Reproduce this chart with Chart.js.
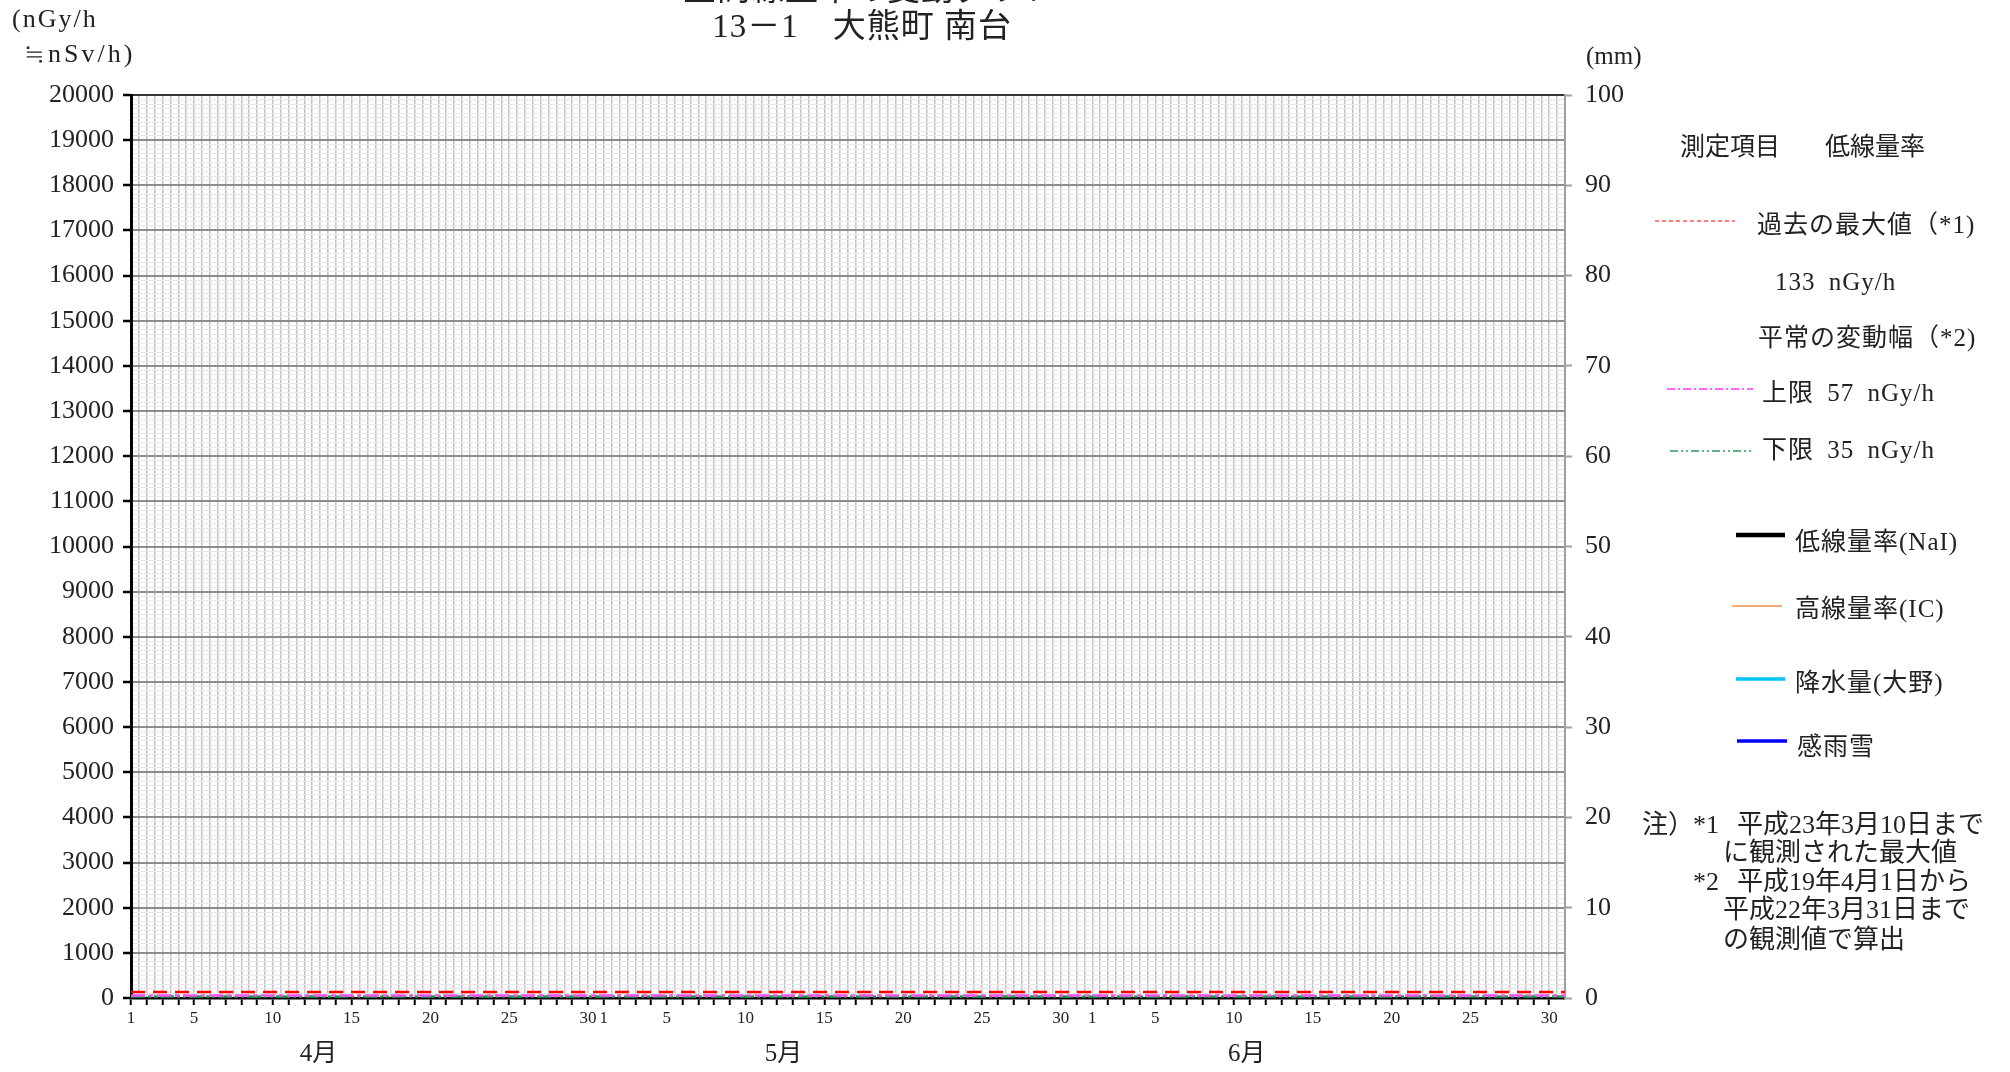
<!DOCTYPE html>
<html lang="ja">
<head>
<meta charset="utf-8">
<title>空間線量率の変動グラフ 13－1 大熊町 南台</title>
<script src="https://cdn.jsdelivr.net/npm/chart.js@4.4.1/dist/chart.umd.min.js"></script>
<style>
  html, body { margin: 0; padding: 0; background: #fff; }
  body {
    width: 2010px; height: 1072px; position: relative; overflow: hidden;
    font-family: "Liberation Serif", "Noto Sans CJK JP", serif; color: #222;
  }
  #chart { position: absolute; left: 0; top: 0; }
  .t { position: absolute; white-space: nowrap; line-height: 1.2; transform: translateY(-50%); font-size: 25px; }
  .c { transform: translate(-50%, -50%); }
  .w { letter-spacing: 1px; word-spacing: 6px; }
  .note { font-size: 26px; }
  #keys { position: absolute; left: 0; top: 0; }
</style>
</head>
<body>
<canvas id="chart" width="2010" height="1072"></canvas>

<div class="t c" style="left:870px; top:-10px; font-size:33px; letter-spacing:1px;">空間線量率の変動グラフ</div>
<div class="t c" style="left:862px; top:27px; font-size:33px; letter-spacing:1px;">13－1　大熊町 南台</div>
<div class="t" style="left:12px; top:19px; font-size:26px; letter-spacing:2px;">(nGy/h</div>
<div class="t" style="left:24px; top:54px; font-size:26px; letter-spacing:3px;">≒nSv/h)</div>
<div class="t" style="left:1586px; top:56px;">(mm)</div>

<div class="t" style="left:1680px; top:147px;">測定項目</div>
<div class="t" style="left:1825px; top:147px;">低線量率</div>
<div class="t w" style="left:1757px; top:225px;">過去の最大値（*1)</div>
<div class="t w" style="left:1775px; top:282px;">133 nGy/h</div>
<div class="t w" style="left:1758px; top:338px;">平常の変動幅（*2)</div>
<div class="t w" style="left:1762px; top:393px;">上限 57 nGy/h</div>
<div class="t w" style="left:1762px; top:450px;">下限 35 nGy/h</div>
<div class="t w" style="left:1795px; top:542px;">低線量率(NaI)</div>
<div class="t w" style="left:1795px; top:609px;">高線量率(IC)</div>
<div class="t w" style="left:1795px; top:683px;">降水量(大野)</div>
<div class="t w" style="left:1797px; top:747px;">感雨雪</div>

<div class="t note" style="left:1642px; top:825px;">注）</div>
<div class="t note" style="left:1693px; top:825px;">*1</div>
<div class="t note" style="left:1737px; top:825px;">平成23年3月10日まで</div>
<div class="t note" style="left:1723px; top:853px;">に観測された最大値</div>
<div class="t note" style="left:1693px; top:882px;">*2</div>
<div class="t note" style="left:1737px; top:882px;">平成19年4月1日から</div>
<div class="t note" style="left:1723px; top:910px;">平成22年3月31日まで</div>
<div class="t note" style="left:1723px; top:940px;">の観測値で算出</div>

<svg id="keys" width="2010" height="1072">
  <line x1="1655" y1="221" x2="1735" y2="221" stroke="#ff0000" stroke-width="1.2" stroke-dasharray="4 3"/>
  <line x1="1667" y1="389" x2="1753" y2="389" stroke="#ff33ff" stroke-width="1.5" stroke-dasharray="8 3 2 3"/>
  <line x1="1670" y1="451" x2="1754" y2="451" stroke="#2e9a5c" stroke-width="1.5" stroke-dasharray="8 3 2 3 2 3"/>
  <line x1="1736" y1="535" x2="1785" y2="535" stroke="#000" stroke-width="4.5"/>
  <line x1="1732" y1="606" x2="1782" y2="606" stroke="#f0904a" stroke-width="1.5"/>
  <line x1="1736" y1="679" x2="1785" y2="679" stroke="#00c4f5" stroke-width="3.5"/>
  <line x1="1737" y1="741" x2="1787" y2="741" stroke="#0000ff" stroke-width="3.5"/>
</svg>

<script>
// months shown on the x axis (Apr - Jun)
const monthNames = ['4月', '5月', '6月'];
const monthDays = [30, 31, 30];
const dayLabels = [1, 5, 10, 15, 20, 25, 30];

// reference levels (nGy/h)
const pastMax = 133;
const normalUpper = 57;
const normalLower = 35;

// measured series - nothing plotted in this period
const naiRate = [];
const icRate = [];
const rainfall = [];
const rainSnow = [];

const totalDays = monthDays.reduce((a, b) => a + b, 0);
const fontFam = '"Liberation Serif", "Noto Sans CJK JP", serif';
const clear = 'rgba(0,0,0,0)';

// where the month names sit, in days from Apr 1
const monthLabelAt = [11.9, 41.4, 70.8];

function dayOfMonth(v) {
    let d = v;
    for (let i = 0; i < monthDays.length; i++) {
        if (d < monthDays[i]) return d + 1;
        d -= monthDays[i];
    }
    return null;
}

function flat(level) {
    return [{ x: 0, y: level }, { x: totalDays, y: level }];
}

const monthLabels = {
    id: 'monthLabels',
    afterDraw(chart) {
        const ctx = chart.ctx;
        const x = chart.scales.x;
        ctx.save();
        ctx.font = '25px ' + fontFam;
        ctx.fillStyle = '#222';
        ctx.textAlign = 'center';
        ctx.textBaseline = 'middle';
        monthNames.forEach((name, i) => {
            ctx.fillText(name, x.getPixelForValue(monthLabelAt[i]), 1054);
        });
        ctx.restore();
    }
};

new Chart(document.getElementById('chart'), {
    type: 'line',
    data: {
        datasets: [
            { label: '過去の最大値', data: flat(pastMax), borderColor: '#ff0000', borderWidth: 2.5, borderDash: [14, 8], pointRadius: 0, yAxisID: 'y' },
            { label: '上限', data: flat(normalUpper), borderColor: '#ee55ee', borderWidth: 2.5, borderDash: [14, 4, 4, 4], pointRadius: 0, yAxisID: 'y' },
            { label: '下限', data: flat(normalLower), borderColor: '#1f9a50', borderWidth: 2.5, borderDash: [14, 3, 3, 3, 3, 3], pointRadius: 0, yAxisID: 'y' },
            { label: '低線量率(NaI)', data: naiRate, borderColor: '#000', borderWidth: 3, pointRadius: 0, yAxisID: 'y' },
            { label: '高線量率(IC)', data: icRate, borderColor: '#f0904a', borderWidth: 1.5, pointRadius: 0, yAxisID: 'y' },
            { label: '降水量(大野)', data: rainfall, borderColor: '#00c4f5', borderWidth: 3, pointRadius: 0, yAxisID: 'y2' },
            { label: '感雨雪', data: rainSnow, borderColor: '#0000ff', borderWidth: 3, pointRadius: 0, yAxisID: 'y2' }
        ]
    },
    options: {
        responsive: false,
        animation: false,
        layout: { padding: { top: 95, left: 0, right: 0, bottom: 0 } },
        plugins: { legend: { display: false }, tooltip: { enabled: false } },
        scales: {
            x: {
                type: 'linear',
                min: 0,
                max: totalDays,
                afterFit: s => { s.height = 74; },
                afterBuildTicks: s => {
                    s.ticks = [];
                    for (let i = 0; i <= totalDays * 2; i++) s.ticks.push({ value: i / 2 });
                },
                border: { color: '#000', width: 2.5 },
                grid: {
                    color: c => (c.tick && c.tick.value > 0 && c.tick.value < totalDays) ? '#c2c2c2' : clear,
                    lineWidth: 1.5,
                    tickLength: 7,
                    tickWidth: 2,
                    tickColor: c => (c.tick && Number.isInteger(c.tick.value) && c.tick.value < totalDays) ? '#000' : clear
                },
                ticks: {
                    autoSkip: false,
                    maxRotation: 0,
                    padding: 3,
                    color: '#222',
                    font: { family: fontFam, size: 17 },
                    callback: v => {
                        if (!Number.isInteger(v)) return '';
                        const d = dayOfMonth(v);
                        return dayLabels.includes(d) ? String(d) : '';
                    }
                }
            },
            y: {
                position: 'left',
                min: 0,
                max: 20000,
                afterFit: s => { s.width = 131; },
                afterBuildTicks: s => {
                    s.ticks = [];
                    for (let v = 0; v <= 20000; v += 100) s.ticks.push({ value: v });
                },
                border: { color: '#000', width: 3 },
                grid: {
                    color: c => {
                        const v = c.tick ? c.tick.value : 0;
                        if (v === 20000) return '#333';
                        return v % 1000 === 0 ? '#8c8c8c' : '#e8e8e8';
                    },
                    lineWidth: c => (c.tick && c.tick.value % 1000 === 0) ? 2 : 1,
                    tickLength: 8,
                    tickWidth: 2.5,
                    tickColor: c => (c.tick && c.tick.value % 1000 === 0) ? '#000' : clear
                },
                ticks: {
                    autoSkip: false,
                    padding: 9,
                    color: '#222',
                    font: { family: fontFam, size: 26 },
                    callback: v => v % 1000 === 0 ? String(v) : ''
                }
            },
            y2: {
                position: 'right',
                min: 0,
                max: 100,
                afterFit: s => { s.width = 445; },
                border: { color: '#a0a0a0', width: 2 },
                grid: { drawOnChartArea: false, tickLength: 7, tickWidth: 2, tickColor: '#a0a0a0' },
                ticks: {
                    stepSize: 10,
                    autoSkip: false,
                    padding: 13,
                    color: '#222',
                    font: { family: fontFam, size: 26 }
                }
            }
        }
    },
    plugins: [monthLabels]
});
</script>
</body>
</html>
